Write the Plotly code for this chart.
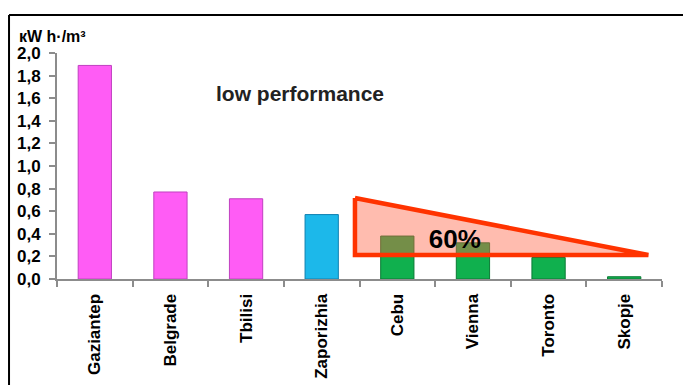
import plotly.graph_objects as go

cities = ["Gaziantep", "Belgrade", "Tbilisi", "Zaporizhia", "Cebu", "Vienna", "Toronto", "Skopje"]
values = [1.89, 0.77, 0.71, 0.57, 0.38, 0.32, 0.19, 0.02]
bar_colors = ["#ff5cf5", "#ff5cf5", "#ff5cf5", "#1cb8ea", "#10b04e", "#10b04e", "#10b04e", "#10b04e"]
line_colors = ["#c040c0", "#c040c0", "#c040c0", "#1080b0", "#0a7a35", "#0a7a35", "#0a7a35", "#0a7a35"]

# reduction triangle (position index, value)
tri_x = [3.44, 3.44, 7.32, 3.44]
tri_y = [0.717, 0.212, 0.212, 0.717]
tri_label = "60%"
y_unit = "кW h·/m³"
note = "low performance"

FONT = "Liberation Sans, Arial, sans-serif"

fig = go.Figure()
fig.add_trace(go.Bar(
    x=cities, y=values, width=0.44,
    marker=dict(color=bar_colors, line=dict(color=line_colors, width=1)),
    showlegend=False, hoverinfo="x+y",
))
fig.add_trace(go.Scatter(
    x=tri_x, y=tri_y, xaxis="x2", mode="lines", fill="toself",
    fillcolor="rgba(255,96,64,0.42)",
    line=dict(color="#ff3300", width=4.5), showlegend=False, hoverinfo="skip",
))
fig.add_trace(go.Scatter(
    x=[4.76], y=[0.33], xaxis="x2", mode="text", text=[tri_label],
    textfont=dict(family=FONT, size=26, color="black", weight="bold"),
    showlegend=False, hoverinfo="skip",
))

fig.update_layout(
    width=683, height=385,
    margin=dict(l=57, r=21, t=53, b=106, autoexpand=False),
    paper_bgcolor="white", plot_bgcolor="white",
    separators=", ",
    font=dict(family=FONT, color="black"),
    xaxis=dict(
        type="category", range=[-0.5, 7.5], tickangle=-90, automargin=False,
        tickson="boundaries", ticks="outside", ticklen=6, tickcolor="#8c8c8c", tickwidth=2,
        showline=True, linecolor="#8c8c8c", linewidth=2, showgrid=False,
        tickfont=dict(family=FONT, size=17, color="black", weight="bold"),
        ticklabelstandoff=6,
    ),
    xaxis2=dict(overlaying="x", range=[-0.5, 7.5], visible=False),
    yaxis=dict(
        range=[0, 2.0], dtick=0.2, tickformat=".1f", automargin=False,
        ticks="outside", ticklen=6, tickcolor="#8c8c8c", tickwidth=2,
        showline=True, linecolor="#8c8c8c", linewidth=2, showgrid=False, zeroline=False,
        tickfont=dict(family=FONT, size=17, color="black", weight="bold"),
        ticklabelstandoff=5,
    ),
    shapes=[
        dict(type="line", xref="paper", yref="paper", x0=-0.0793, x1=1.2, y0=1.168, y1=1.168,
             line=dict(color="black", width=2)),
        dict(type="line", xref="paper", yref="paper", x0=-0.0793, x1=-0.0793, y0=1.168, y1=-0.6,
             line=dict(color="black", width=2)),
    ],
    annotations=[
        dict(text=y_unit, xref="paper", yref="paper", x=-0.066, y=1.075, xanchor="left", yanchor="middle",
             showarrow=False, font=dict(family=FONT, size=16, color="black", weight="bold")),
        dict(text=note, xref="paper", yref="paper", x=0.4017, y=0.823, xanchor="center", yanchor="middle",
             showarrow=False, font=dict(family=FONT, size=21, color="#222222", weight="bold")),
    ],
)

fig.write_html("out.html")
